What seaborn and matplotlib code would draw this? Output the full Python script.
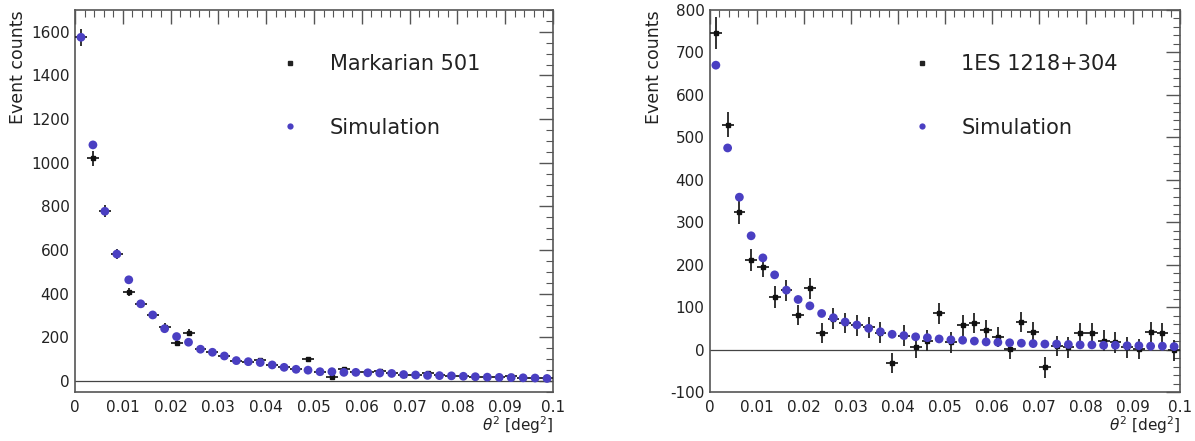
import numpy as np
import pandas as pd
import seaborn as sns
import matplotlib
matplotlib.use("Agg")
import matplotlib.pyplot as plt
from matplotlib.ticker import MultipleLocator
from matplotlib.lines import Line2D

# ---- data (40 bins of width 0.0025 deg^2, 0 .. 0.1) ----
bin_width = 0.0025
theta2 = [0.00125 + 0.0025 * i for i in range(40)]

mrk_data = [1575, 1020, 780, 582, 408, 354, 303, 250, 176, 222,
            146, 132, 115, 90, 89, 95, 74, 63, 54, 100,
            43, 20, 55, 40, 40, 45, 35, 30, 28, 35,
            27, 22, 24, 20, 18, 17, 22, 15, 14, 12]
mrk_err = [40, 33, 28, 24, 20, 19, 17, 16, 14, 15,
           12, 12, 11, 10, 10, 10, 9, 8, 8, 10,
           7, 6, 8, 7, 7, 7, 6, 6, 6, 6,
           5, 5, 5, 5, 5, 5, 5, 4, 4, 4]
mrk_sim = [1575, 1082, 778, 582, 464, 354, 303, 240, 204, 178,
           146, 132, 115, 94, 89, 85, 74, 63, 54, 50,
           43, 43, 40, 40, 38, 37, 35, 30, 28, 26,
           25, 24, 22, 20, 18, 17, 16, 15, 14, 12]

es_data = [746, 530, 323, 211, 195, 124, 140, 82, 144, 39,
           73, 63, 57, 52, 40, -32, 33, 5, 21, 85,
           17, 57, 62, 45, 29, 2, 65, 41, -42, 9,
           5, 38, 38, 21, 17, 5, 2, 41, 38, -2]
es_err = [38, 30, 27, 26, 25, 25, 25, 24, 24, 24,
          24, 24, 24, 24, 24, 24, 24, 24, 24, 24,
          24, 24, 24, 24, 24, 24, 24, 24, 24, 24,
          24, 24, 24, 24, 24, 24, 24, 24, 24, 24]
es_sim = [670, 475, 359, 268, 216, 176, 140, 118, 103, 85,
          75, 65, 58, 50, 42, 36, 33, 30, 28, 25,
          23, 22, 20, 18, 17, 16, 15, 14, 13, 13,
          12, 11, 11, 10, 10, 9, 9, 8, 8, 7]

labels_left = ["Markarian 501", "Simulation"]
labels_right = ["1ES 1218+304", "Simulation"]

SIM_COLOR = "#4a3fc2"
FONT = "DejaVu Sans"

sns.set_theme(style="white")
plt.rcParams["font.family"] = [FONT]
plt.rcParams["mathtext.fontset"] = "dejavusans"
plt.rcParams["axes.unicode_minus"] = False

fig = plt.figure(figsize=(11.95, 4.41), dpi=100)
axL = fig.add_axes([75 / 1195, 49 / 441, 478 / 1195, 382 / 441])
axR = fig.add_axes([710 / 1195, 49 / 441, 470 / 1195, 382 / 441])


def fmt(v, p):
    if abs(v) < 1e-9:
        return "0"
    if v > 0.0999:
        return "0.1"
    return "%.2f" % v


def panel(ax, data, err, sim, labels, ylim, ymaj, ymin):
    df = pd.DataFrame({"theta2": theta2, "sim": sim})
    ax.axhline(0, color="#444444", lw=0.9, zorder=1)
    ax.errorbar(theta2, data, yerr=err, xerr=bin_width / 2,
                fmt="s", ms=2.5, color="#111111", ecolor="#222222",
                elinewidth=1.3, capsize=0, zorder=3)
    sns.scatterplot(data=df, x="theta2", y="sim", ax=ax, color=SIM_COLOR,
                    s=40, edgecolor="none", zorder=4, legend=False)
    ax.set_xlim(0, 0.1)
    ax.set_ylim(*ylim)
    ax.xaxis.set_major_locator(MultipleLocator(0.01))
    ax.xaxis.set_minor_locator(MultipleLocator(0.002))
    ax.yaxis.set_major_locator(MultipleLocator(ymaj))
    ax.yaxis.set_minor_locator(MultipleLocator(ymin))
    ax.xaxis.set_major_formatter(matplotlib.ticker.FuncFormatter(fmt))
    ax.tick_params(axis="both", which="both", direction="in", top=True, right=True,
                   color="#555555")
    ax.tick_params(axis="both", which="major", length=10, width=1.0)
    ax.tick_params(axis="both", which="minor", length=5, width=0.8)
    ax.tick_params(axis="x", labelsize=11, pad=6, labelcolor="#222222")
    ax.tick_params(axis="y", labelsize=11, pad=4, labelcolor="#222222")
    for s in ax.spines.values():
        s.set_color("#555555")
        s.set_linewidth(1.2)
    ax.set_xlabel(r"$\theta^{2}$ [deg$^{2}$]", loc="right", fontsize=11,
                  color="#222222", va="center")
    ax.set_ylabel("Event counts", loc="top", fontsize=12.5, color="#222222")
    ax.yaxis.set_label_coords(-0.1, 1.0)
    ax.xaxis.set_label_coords(1.0, -0.088)
    h_data = Line2D([], [], ls="none", marker="s", ms=3, color="#222222")
    h_sim = Line2D([], [], ls="none", marker="o", ms=4.5, color=SIM_COLOR,
                   markeredgewidth=0)
    leg = ax.legend([h_data, h_sim], labels, loc="upper left",
                    bbox_to_anchor=(0.428, 0.885), frameon=False,
                    fontsize=15, handlelength=1.0, handletextpad=1.4,
                    labelspacing=2.1, borderpad=0, borderaxespad=0)
    for t in leg.get_texts():
        t.set_color("#222222")


panel(axL, mrk_data, mrk_err, mrk_sim, labels_left, (-50, 1700), 200, 50)
panel(axR, es_data, es_err, es_sim, labels_right, (-100, 800), 100, 20)

fig.savefig("out.png", dpi=100)
